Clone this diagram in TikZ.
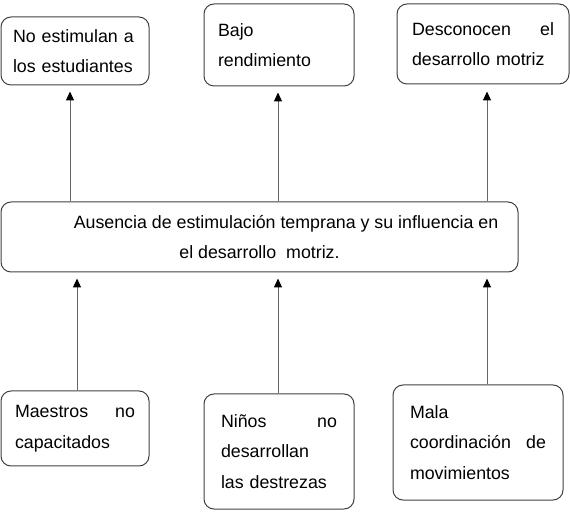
\documentclass[tikz,border=0pt]{standalone}
\usepackage{fontspec}
\setmainfont{Liberation Sans}
\usepackage{tikz}
\usetikzlibrary{arrows.meta}

\newcommand{\hueco}{\hspace{0pt plus 1filll}}

\begin{document}
\begin{tikzpicture}[x=1pt,y=1pt,
    caja/.style={draw=black!75, line width=1pt, rounded corners=10pt, inner xsep=14pt,
      align=left, font=\fontsize{17.8}{30.5}\selectfont},
    flecha/.style={draw=black!60, line width=1pt, -{Triangle[length=9pt,width=8pt,color=black]}}]
  \useasboundingbox (0,0) rectangle (570,530);

  \node[caja, text width=124, inner xsep=12pt, minimum height=68] (estimular) at (75,479)
    {No estimulan a\\los estudiantes};
  \node[caja, text width=122, minimum height=82] (bajo) at (279,485)
    {Bajo\\rendimiento};
  \node[caja, text width=142, inner xsep=15pt, minimum height=80] (desconocen) at (483,486)
    {Desconocen\hueco el\\desarrollo motriz};

  \node[caja, align=center, minimum width=517, minimum height=70] (centro) at (259.5,293)
    {\hspace*{53pt}Ausencia de estimulación temprana y su influencia en\\el desarrollo\ \ motriz.};

  \node[caja, text width=120, minimum height=75] (maestros) at (75,101.5)
    {Maestros\hueco no\\capacitados};
  \node[caja, text width=116, inner xsep=17pt, minimum height=115] (ninos) at (279,78.5)
    {Niños\hueco no\\desarrollan\\las destrezas};
  \node[caja, text width=136, inner xsep=17pt, minimum height=115] (mala) at (478,87.5)
    {Mala\\coordinación\hueco de\\movimientos};

  \draw[flecha] ([xshift=-5pt]estimular.south |- centro.north) -- ([xshift=-5pt,yshift=-6pt]estimular.south);
  \draw[flecha] ([xshift=-1pt]bajo.south |- centro.north) -- ([xshift=-1pt,yshift=-6pt]bajo.south);
  \draw[flecha] ([xshift=4pt]desconocen.south |- centro.north) -- ([xshift=4pt,yshift=-7pt]desconocen.south);

  \draw[flecha] ([xshift=2pt]maestros.north) -- ([xshift=2pt,yshift=-6pt]maestros.north |- centro.south);
  \draw[flecha] ([xshift=-1pt]ninos.north) -- ([xshift=-1pt,yshift=-6pt]ninos.north |- centro.south);
  \draw[flecha] ([xshift=9pt]mala.north) -- ([xshift=9pt,yshift=-6pt]mala.north |- centro.south);
\end{tikzpicture}
\end{document}
